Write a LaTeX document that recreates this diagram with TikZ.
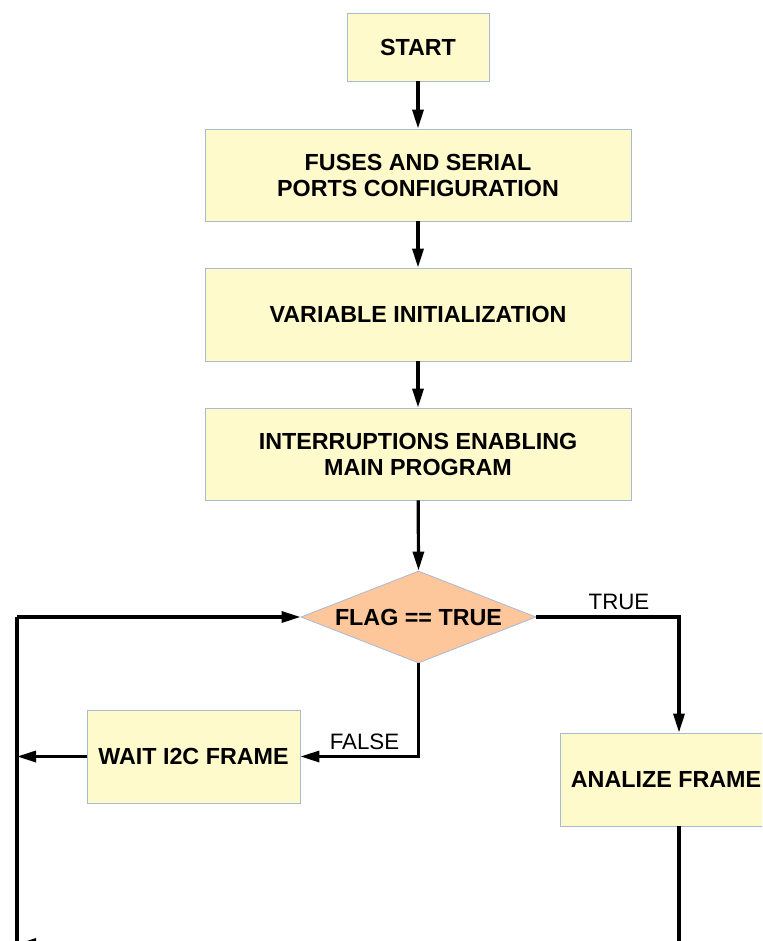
\documentclass[tikz,border=0pt]{standalone}
\usepackage{fontspec}
\setmainfont{Liberation Sans}
\usetikzlibrary{shapes.geometric,arrows.meta}
\definecolor{boxfill}{HTML}{FFFACC}
\definecolor{boxline}{HTML}{A9B9D2}
\definecolor{diafill}{HTML}{FDC79B}
\tikzset{
  pbox/.style={draw=boxline, line width=0.8pt, fill=boxfill, inner sep=0pt, align=center,
    font=\fontsize{23.3}{26}\selectfont\bfseries},
  dia/.style={diamond, draw=boxline, line width=0.8pt, fill=diafill, inner sep=0pt,
    minimum width=235pt, minimum height=92pt},
  btxt/.style={font=\fontsize{23.3}{26}\selectfont\bfseries, inner sep=0pt},
  lbl/.style={font=\fontsize{22.3}{24}\selectfont, inner sep=0pt},
  conn/.style={line width=3.2pt, -{Triangle[length=19pt,width=11pt]}},
  plain/.style={line width=3.2pt}
}
\begin{document}
\begin{tikzpicture}[x=1pt,y=-1pt]
\useasboundingbox (0,0) rectangle (762,941);
\clip (0,0) rectangle (762,941);
\node[pbox, minimum width=142pt, minimum height=68pt] (start) at (418,47) {START};
\node[pbox, minimum width=426pt, minimum height=92pt] (fuses) at (418,175) {FUSES AND SERIAL\\PORTS CONFIGURATION};
\node[pbox, minimum width=426pt, minimum height=93pt] (var) at (418,314.5) {VARIABLE INITIALIZATION};
\node[pbox, minimum width=426pt, minimum height=92pt] (intr) at (418,454) {INTERRUPTIONS ENABLING\\MAIN PROGRAM};
\node[dia] (flag) at (418.5,617) {};
\node[btxt] (flagtxt) at (flag.center) {FLAG == TRUE};
\node[pbox, minimum width=213pt, minimum height=93pt] (wait) at (193.5,756.5) {WAIT I2C FRAME};
\node[pbox, minimum width=212pt, minimum height=93pt] (anal) at (666,779.5) {};
\node[btxt] (analtxt) at (666,779.5) {ANALIZE FRAME};

\coordinate (lt) at (17,617);
\coordinate (lm) at (17,756.5);
\coordinate (lb) at (17,960);
\coordinate (bk) at (17,944);
\coordinate (bkr) at (200,944);
\coordinate (fc) at (418.5,756.5);
\coordinate (tc) at (679,617);
\coordinate (ab) at (679,960);

\draw[conn] (start) -- (fuses);
\draw[conn] (fuses) -- (var);
\draw[conn] (var) -- (intr);
\draw[conn] (intr) -- (flag.north);
\draw[plain] (lb) -- (lt);
\draw[conn] (lt) -- (flag.west);
\draw[conn] (wait.west) -- (lm);
\draw[conn] (flag.south) -- (fc) -- (wait.east);
\draw[conn] (flag.east) -- (tc) -- (anal.north -| tc);
\draw[plain] (anal.south -| ab) -- (ab);
\draw[conn] (bkr) -- (bk);

\node[lbl] (tlbl) at (619,602) {TRUE};
\node[lbl] (flbl) at (364.5,741.5) {FALSE};
\end{tikzpicture}
\end{document}
